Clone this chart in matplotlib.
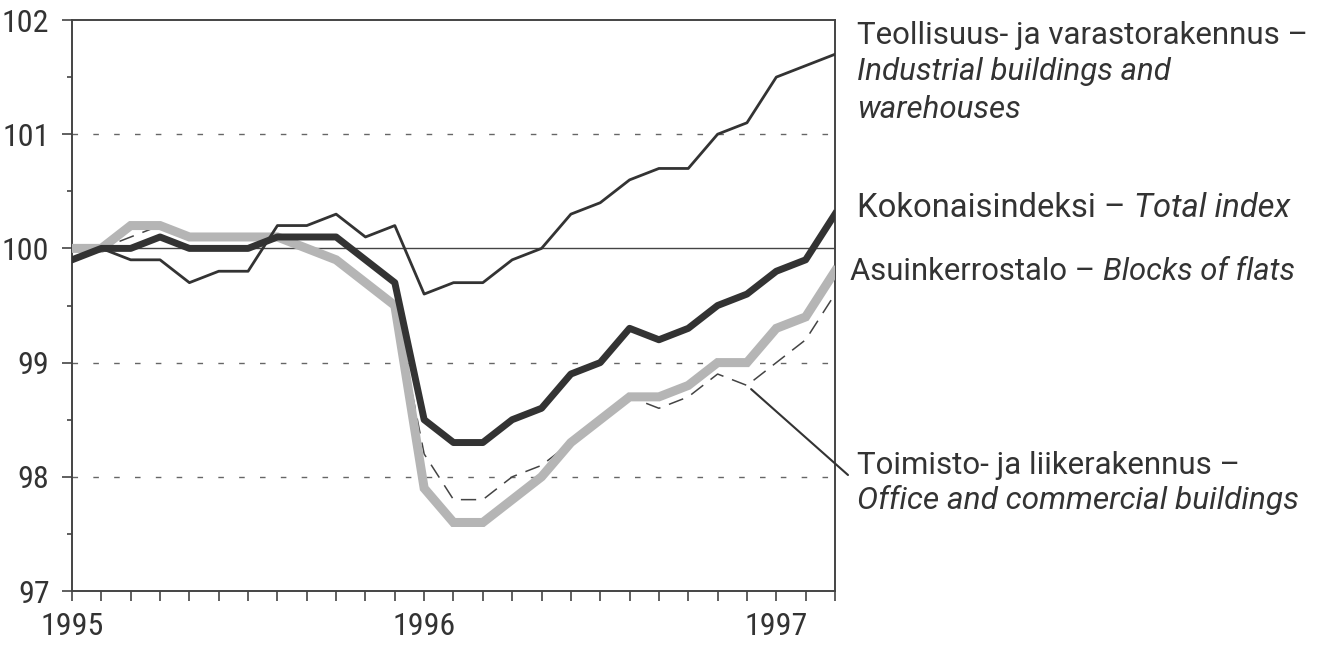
import numpy as np
import matplotlib
matplotlib.use("Agg")
import matplotlib.pyplot as plt
from matplotlib import font_manager

# monthly index, Jan 1995 .. Mar 1997
months = np.arange(27)
industrial = [99.9, 100.0, 99.9, 99.9, 99.7, 99.8, 99.8, 100.2, 100.2, 100.3, 100.1, 100.2,
              99.6, 99.7, 99.7, 99.9, 100.0, 100.3, 100.4, 100.6, 100.7, 100.7, 101.0, 101.1,
              101.5, 101.6, 101.7]
total = [99.9, 100.0, 100.0, 100.1, 100.0, 100.0, 100.0, 100.1, 100.1, 100.1, 99.9, 99.7,
         98.5, 98.3, 98.3, 98.5, 98.6, 98.9, 99.0, 99.3, 99.2, 99.3, 99.5, 99.6,
         99.8, 99.9, 100.3]
flats = [100.0, 100.0, 100.2, 100.2, 100.1, 100.1, 100.1, 100.1, 100.0, 99.9, 99.7, 99.5,
         97.9, 97.6, 97.6, 97.8, 98.0, 98.3, 98.5, 98.7, 98.7, 98.8, 99.0, 99.0,
         99.3, 99.4, 99.8]
office = [100.0, 100.0, 100.1, 100.2, 100.1, 100.1, 100.1, 100.1, 100.0, 99.9, 99.7, 99.5,
          98.2, 97.8, 97.8, 98.0, 98.1, 98.3, 98.5, 98.7, 98.6, 98.7, 98.9, 98.8,
          99.0, 99.2, 99.6]
year_ticks = [0, 12, 24]
year_labels = ["1995", "1996", "1997"]
y_ticks = [97, 98, 99, 100, 101, 102]

# condensed face for the tick numbers if one is around
names = {f.name for f in font_manager.fontManager.ttflist}
tickfam = "Liberation Sans"
for cand in ["Roboto Condensed", "Archivo Narrow", "PT Sans Narrow", "Liberation Sans Narrow"]:
    if cand in names:
        tickfam = cand
        break
labfam = "Roboto" if "Roboto" in names else "Liberation Sans"
plt.rcParams['font.family'] = [tickfam, 'DejaVu Sans']

ink = '#333333'
fig = plt.figure(figsize=(13.22, 6.45), dpi=100)
ax = fig.add_axes([72/1322, 54/645, (835-72)/1322, (591-20)/645])

# grid
for v in [98, 99, 101]:
    ax.axhline(v, color='#666666', lw=1.0, ls=(0, (4, 11)), zorder=1)
ax.axhline(100, color='#444444', lw=1.0, zorder=1)

ax.plot(months, office, color='#444444', lw=1.1, ls=(0, (10, 6)), zorder=2)
ax.plot(months, flats, color='#b5b5b5', lw=6.5, solid_joinstyle='miter', zorder=3)
ax.plot(months, industrial, color=ink, lw=2.0, zorder=4)
ax.plot(months, total, color=ink, lw=5.0, zorder=5)

ax.set_xlim(0, 26)
ax.set_ylim(97, 102)
ax.set_xticks(months, minor=True)
ax.set_xticks(year_ticks)
ax.set_xticklabels(year_labels)
ax.set_yticks(y_ticks)
ax.set_yticks(np.arange(97.5, 102, 1.0), minor=True)
ax.tick_params(axis='both', which='both', direction='out', color='#444444', width=1.2,
               labelsize=23, labelcolor=ink)
ax.tick_params(axis='y', which='major', length=7.2, pad=9)
ax.tick_params(axis='y', which='minor', length=3.5)
ax.tick_params(axis='x', which='both', length=7.2, pad=8)
for s in ax.spines.values():
    s.set_color('#444444')
    s.set_linewidth(1.4)

x0 = 857/1322


def fy(py):
    return 1 - py/645


lab = dict(color=ink, family=[labfam, 'DejaVu Sans'])
fig.text(x0, fy(35), "Teollisuus- ja varastorakennus \u2013", fontsize=22.5, va='center', **lab)
fig.text(x0, fy(72), "Industrial buildings and", fontsize=22.5, va='center', style='italic', **lab)
fig.text(x0, fy(110), "warehouses", fontsize=22.5, va='center', style='italic', **lab)

t1 = fig.text(x0, fy(217), "Kokonaisindeksi \u2013 ", fontsize=23.6, va='baseline', **lab)
ax.annotate("Total index", xy=(1, 0), xycoords=t1, fontsize=23.6, style='italic',
            va='bottom', annotation_clip=False, **lab)
t2 = fig.text(850/1322, fy(280), "Asuinkerrostalo \u2013 ", fontsize=22.3, va='baseline', **lab)
ax.annotate("Blocks of flats", xy=(1, 0), xycoords=t2, fontsize=22.3, style='italic',
            va='bottom', annotation_clip=False, **lab)

fig.text(x0, fy(465), "Toimisto- ja liikerakennus \u2013", fontsize=22.5, va='center', **lab)
fig.text(x0, fy(500), "Office and commercial buildings", fontsize=22.8, va='center',
         style='italic', **lab)

# leader line for office series
ax.annotate("", xy=(months[23], office[23]), xytext=(848/1322, fy(475)),
            textcoords='figure fraction',
            arrowprops=dict(arrowstyle='-', color=ink, lw=1.5, shrinkA=0, shrinkB=4),
            annotation_clip=False)

fig.savefig("out.png", dpi=100)
